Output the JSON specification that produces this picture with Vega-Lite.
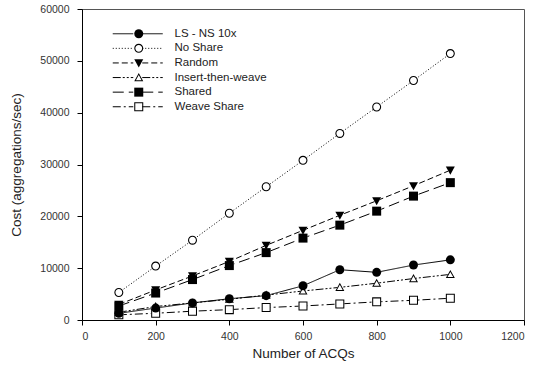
{
  "$schema": "https://vega.github.io/schema/vega-lite/v6.json",
  "autosize": "none",
  "width": 442,
  "height": 311,
  "padding": {"left": 82, "top": 9, "right": 11, "bottom": 53},
  "background": "white",
  "config": {
    "font": "Liberation Sans",
    "view": {"stroke": "#555", "strokeWidth": 1},
    "axis": {"grid": false, "domainColor": "#000", "tickColor": "#000", "tickSize": 5, "labelFont": "Liberation Sans", "labelFontSize": 10.5, "labelColor": "#333", "titleFont": "Liberation Sans", "titleFontSize": 13.5, "titleFontWeight": "normal", "titleColor": "#222"}
  },
  "data": {"values": [
    {"x": 100, "y": 1300, "series": "LS - NS 10x"},
    {"x": 200, "y": 2300, "series": "LS - NS 10x"},
    {"x": 300, "y": 3300, "series": "LS - NS 10x"},
    {"x": 400, "y": 4100, "series": "LS - NS 10x"},
    {"x": 500, "y": 4700, "series": "LS - NS 10x"},
    {"x": 600, "y": 6600, "series": "LS - NS 10x"},
    {"x": 700, "y": 9700, "series": "LS - NS 10x"},
    {"x": 800, "y": 9200, "series": "LS - NS 10x"},
    {"x": 900, "y": 10600, "series": "LS - NS 10x"},
    {"x": 1000, "y": 11600, "series": "LS - NS 10x"},
    {"x": 100, "y": 5300, "series": "No Share"},
    {"x": 200, "y": 10400, "series": "No Share"},
    {"x": 300, "y": 15400, "series": "No Share"},
    {"x": 400, "y": 20600, "series": "No Share"},
    {"x": 500, "y": 25700, "series": "No Share"},
    {"x": 600, "y": 30800, "series": "No Share"},
    {"x": 700, "y": 36000, "series": "No Share"},
    {"x": 800, "y": 41100, "series": "No Share"},
    {"x": 900, "y": 46200, "series": "No Share"},
    {"x": 1000, "y": 51400, "series": "No Share"},
    {"x": 100, "y": 3000, "series": "Random"},
    {"x": 200, "y": 5800, "series": "Random"},
    {"x": 300, "y": 8500, "series": "Random"},
    {"x": 400, "y": 11300, "series": "Random"},
    {"x": 500, "y": 14400, "series": "Random"},
    {"x": 600, "y": 17300, "series": "Random"},
    {"x": 700, "y": 20200, "series": "Random"},
    {"x": 800, "y": 23000, "series": "Random"},
    {"x": 900, "y": 25900, "series": "Random"},
    {"x": 1000, "y": 28900, "series": "Random"},
    {"x": 100, "y": 1500, "series": "Insert-then-weave"},
    {"x": 200, "y": 2600, "series": "Insert-then-weave"},
    {"x": 300, "y": 3300, "series": "Insert-then-weave"},
    {"x": 400, "y": 4000, "series": "Insert-then-weave"},
    {"x": 500, "y": 4800, "series": "Insert-then-weave"},
    {"x": 600, "y": 5600, "series": "Insert-then-weave"},
    {"x": 700, "y": 6300, "series": "Insert-then-weave"},
    {"x": 800, "y": 7100, "series": "Insert-then-weave"},
    {"x": 900, "y": 8000, "series": "Insert-then-weave"},
    {"x": 1000, "y": 8800, "series": "Insert-then-weave"},
    {"x": 100, "y": 2700, "series": "Shared"},
    {"x": 200, "y": 5200, "series": "Shared"},
    {"x": 300, "y": 7800, "series": "Shared"},
    {"x": 400, "y": 10500, "series": "Shared"},
    {"x": 500, "y": 13000, "series": "Shared"},
    {"x": 600, "y": 15800, "series": "Shared"},
    {"x": 700, "y": 18300, "series": "Shared"},
    {"x": 800, "y": 21000, "series": "Shared"},
    {"x": 900, "y": 23900, "series": "Shared"},
    {"x": 1000, "y": 26500, "series": "Shared"},
    {"x": 100, "y": 1000, "series": "Weave Share"},
    {"x": 200, "y": 1300, "series": "Weave Share"},
    {"x": 300, "y": 1700, "series": "Weave Share"},
    {"x": 400, "y": 2000, "series": "Weave Share"},
    {"x": 500, "y": 2400, "series": "Weave Share"},
    {"x": 600, "y": 2700, "series": "Weave Share"},
    {"x": 700, "y": 3100, "series": "Weave Share"},
    {"x": 800, "y": 3500, "series": "Weave Share"},
    {"x": 900, "y": 3800, "series": "Weave Share"},
    {"x": 1000, "y": 4200, "series": "Weave Share"}
  ]},
  "encoding": {
    "x": {"field": "x", "type": "quantitative", "title": "Number of ACQs",
      "scale": {"domain": [0, 1200], "nice": false},
      "axis": {"values": [0, 200, 400, 600, 800, 1000, 1200], "format": "d", "labelPadding": 6, "titlePadding": 5}},
    "y": {"field": "y", "type": "quantitative", "title": "Cost (aggregations/sec)",
      "scale": {"domain": [0, 60000], "nice": false},
      "axis": {"values": [0, 10000, 20000, 30000, 40000, 50000, 60000], "format": "d", "labelPadding": 8, "titlePadding": 16}}
  },
  "resolve": {"scale": {"shape": "independent"}, "legend": {"shape": "independent"}},
  "layer": [
    {
      "mark": {"type": "line", "color": "#000", "strokeWidth": 1},
      "encoding": {
        "strokeDash": {"field": "series", "type": "nominal", "sort": null,
          "scale": {"range": [[1, 0], [1, 2], [6, 3], [8, 2, 2, 2, 2, 2], [11, 5], [8, 3, 2, 3]]},
          "legend": {"orient": "none", "legendX": 50, "legendY": 19, "title": null, "padding": 0,
            "symbolType": "M-5,0L-0.9,0M0.9,0L5,0", "symbolSize": 100, "symbolStrokeColor": "#000", "symbolStrokeWidth": 1,
            "labelFont": "Liberation Sans", "labelFontSize": 11.5, "labelColor": "#222", "labelOffset": 31, "rowPadding": 1.6}}
      }
    },
    {
      "mark": {"type": "point", "filled": true, "size": 81, "fill": "#fff", "opacity": 1},
      "encoding": {
        "shape": {"field": "series", "type": "nominal",
          "scale": {"domain": ["LS - NS 10x", "No Share", "Random", "Insert-then-weave", "Shared", "Weave Share"],
            "range": ["circle", "circle", "M0,1L-1,-0.8L1,-0.8Z", "M0,-1L-1,0.8L1,0.8Z", "square", "square"]},
          "legend": null}
      }
    },
    {
      "mark": {"type": "point", "filled": true, "size": 81, "fill": "#000", "opacity": 1},
      "encoding": {
        "shape": {"field": "series", "type": "nominal",
          "scale": {"domain": ["LS - NS 10x", "No Share", "Random", "Insert-then-weave", "Shared", "Weave Share"],
            "range": [
              "circle",
              "M-1,0A1,1,0,1,0,1,0A1,1,0,1,0,-1,0ZM-0.76,0A0.76,0.76,0,1,1,0.76,0A0.76,0.76,0,1,1,-0.76,0Z",
              "M0,1L-1,-0.8L1,-0.8Z",
              "M0,-1L-1,0.8L1,0.8ZM0,-0.55L0.63,0.58L-0.63,0.58Z",
              "square",
              "M-1,-1L1,-1L1,1L-1,1ZM-0.77,-0.77L-0.77,0.77L0.77,0.77L0.77,-0.77Z"
            ]},
          "legend": {"orient": "none", "legendX": 51, "legendY": 19, "title": null, "padding": 0,
            "symbolSize": 81, "symbolFillColor": "#000", "symbolStrokeWidth": 0,
            "labelFontSize": 11.5, "labelExpr": "''", "labelOffset": 13, "rowPadding": 1.6}}
      }
    }
  ]
}
